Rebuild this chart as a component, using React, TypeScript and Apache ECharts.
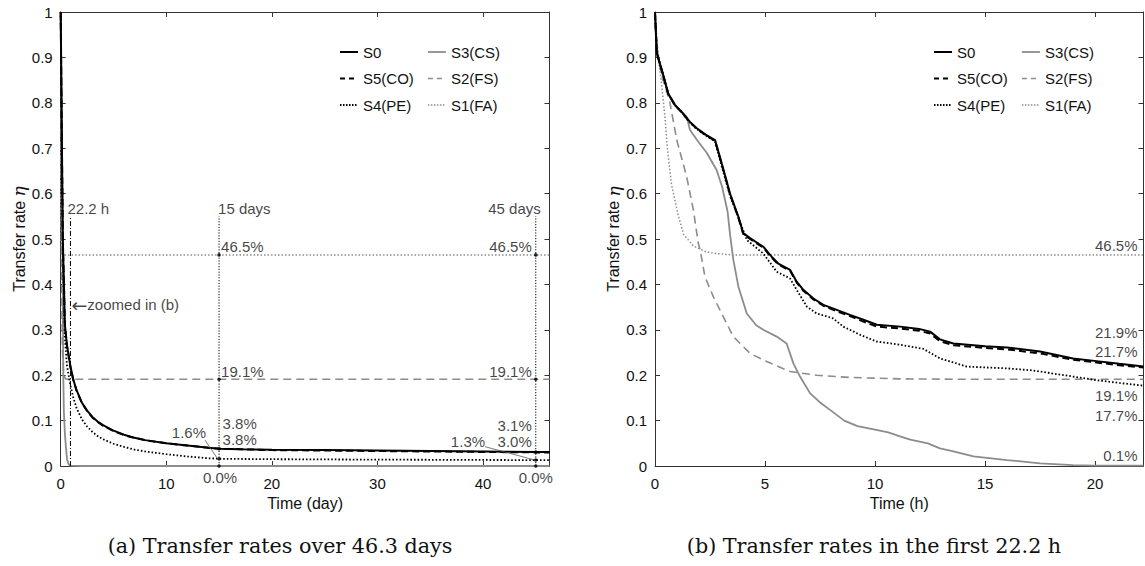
import React, { useEffect, useRef } from 'react';
import * as echarts from 'echarts';

// ---------- Data: panel (a), time in days ----------
const aS0 = [[0,1],[0.1,0.74],[0.2,0.5],[0.4,0.31],[0.6,0.265],[0.925,0.219],[1.2,0.19],[1.5,0.167],[2,0.14],[2.5,0.122],[3,0.108],[3.5,0.098],[4,0.09],[5,0.078],[6,0.069],[7,0.062],[8,0.057],[10,0.05],[12,0.045],[14,0.04],[15,0.038],[17,0.037],[20,0.036],[25,0.035],[30,0.034],[35,0.033],[40,0.032],[45,0.031],[46.3,0.031]];
const aS5 = [[0,1],[0.1,0.74],[0.2,0.5],[0.4,0.31],[0.6,0.264],[0.925,0.217],[1.2,0.189],[1.5,0.166],[2,0.139],[2.5,0.121],[3,0.107],[3.5,0.097],[4,0.089],[5,0.077],[6,0.068],[7,0.062],[8,0.057],[10,0.05],[12,0.045],[14,0.04],[15,0.038],[17,0.037],[20,0.035],[25,0.034],[30,0.033],[35,0.032],[40,0.031],[45,0.03],[46.3,0.03]];
const aS4 = [[0,1],[0.1,0.73],[0.2,0.47],[0.4,0.28],[0.6,0.22],[0.925,0.177],[1.2,0.15],[1.5,0.128],[2,0.103],[2.5,0.087],[3,0.075],[3.5,0.066],[4,0.059],[5,0.049],[6,0.042],[7,0.036],[8,0.032],[10,0.026],[12,0.021],[14,0.017],[15,0.016],[17,0.0155],[20,0.015],[25,0.0145],[30,0.014],[35,0.0137],[40,0.0133],[45,0.013],[46.3,0.013]];
const aS3 = [[0,1],[0.05,0.85],[0.1,0.72],[0.15,0.6],[0.2,0.35],[0.25,0.19],[0.3,0.12],[0.4,0.07],[0.5,0.04],[0.6,0.015],[0.75,0.004],[0.925,0.001],[2,0],[46.3,0]];
const aS2 = [[0,1],[0.04,0.71],[0.083,0.47],[0.125,0.33],[0.167,0.255],[0.21,0.23],[0.3,0.2],[0.46,0.192],[0.925,0.191],[46.3,0.191]];
const aS1 = [[0,1],[0.02,0.65],[0.04,0.53],[0.07,0.48],[0.12,0.467],[0.2,0.465],[46.3,0.465]];

// ---------- Data: panel (b), time in hours ----------
const bS0 = [[0,1],[0.08,0.91],[0.38,0.86],[0.6,0.82],[0.9,0.795],[1.21,0.78],[1.59,0.758],[1.9,0.744],[2.3,0.73],[2.73,0.718],[3.03,0.667],[3.41,0.6],[3.79,0.549],[4.01,0.513],[4.32,0.502],[4.92,0.483],[5.3,0.461],[5.6,0.446],[6.14,0.432],[6.44,0.406],[6.74,0.388],[7.2,0.369],[7.65,0.355],[8.26,0.344],[8.86,0.333],[9.47,0.322],[10.08,0.311],[11.14,0.307],[12.0,0.302],[12.5,0.296],[12.95,0.279],[13.56,0.27],[15,0.264],[16,0.261],[17.5,0.252],[19,0.237],[20.07,0.231],[21.1,0.225],[22.2,0.219]];
const bS5 = [[0,1],[0.08,0.91],[0.38,0.86],[0.6,0.82],[0.9,0.795],[1.21,0.779],[1.59,0.757],[1.9,0.743],[2.3,0.729],[2.73,0.716],[3.03,0.665],[3.41,0.598],[3.79,0.547],[4.01,0.511],[4.32,0.5],[4.92,0.481],[5.3,0.459],[5.6,0.444],[6.14,0.43],[6.44,0.404],[6.74,0.386],[7.2,0.367],[7.65,0.353],[8.26,0.341],[8.86,0.33],[9.47,0.318],[10.08,0.307],[11.14,0.303],[12.0,0.298],[12.5,0.292],[12.95,0.275],[13.56,0.266],[15,0.26],[16,0.257],[17.5,0.248],[19,0.234],[20.07,0.228],[21.1,0.222],[22.2,0.217]];
const bS4 = [[0,1],[0.08,0.91],[0.38,0.86],[0.6,0.82],[0.9,0.795],[1.21,0.78],[1.59,0.756],[1.9,0.742],[2.3,0.728],[2.73,0.715],[3.03,0.66],[3.41,0.595],[3.86,0.538],[4.17,0.498],[4.92,0.468],[5.53,0.428],[6.14,0.413],[6.44,0.388],[6.9,0.351],[7.35,0.336],[8.1,0.325],[8.56,0.307],[9.32,0.289],[10.08,0.274],[11.14,0.267],[12.2,0.258],[12.95,0.237],[14.17,0.219],[16,0.215],[17.05,0.211],[17.5,0.208],[19,0.197],[20.07,0.189],[21.1,0.183],[22.2,0.177]];
const bS3 = [[0,1],[0.08,0.909],[0.38,0.857],[0.6,0.821],[0.99,0.791],[1.44,0.769],[1.59,0.74],[2.0,0.712],[2.35,0.69],[2.8,0.652],[3.05,0.615],[3.3,0.56],[3.41,0.51],[3.56,0.454],[3.79,0.395],[4.17,0.336],[4.6,0.31],[4.92,0.3],[5.53,0.285],[5.98,0.27],[6.29,0.226],[6.59,0.197],[7.05,0.16],[7.5,0.14],[8,0.122],[8.6,0.1],[9.2,0.088],[10,0.08],[10.6,0.074],[11.1,0.066],[11.6,0.058],[12.4,0.05],[12.95,0.039],[13.56,0.032],[14.47,0.021],[16,0.013],[17.5,0.006],[19,0.002],[20,0.001],[22.2,0.001]];
const bS2 = [[0,1],[0.1,0.92],[0.3,0.86],[0.5,0.83],[0.68,0.8],[0.99,0.718],[1.44,0.637],[1.74,0.565],[1.97,0.49],[2.05,0.476],[2.27,0.417],[2.65,0.373],[3.1,0.329],[3.56,0.285],[4.32,0.248],[5.08,0.23],[6.14,0.208],[7.35,0.2],[8.86,0.195],[11.14,0.192],[14,0.191],[22.2,0.191]];
const bS1 = [[0,1],[0.15,0.9],[0.3,0.84],[0.45,0.77],[0.57,0.696],[0.75,0.62],[1.05,0.553],[1.3,0.51],[1.74,0.485],[2.3,0.472],[2.8,0.468],[3.5,0.465],[22.2,0.465]];

// ---------- Axes ----------
const X_MAX_A = 46.3;
const X_MAX_B = 22.2;
const X_TICKS_A = [0, 10, 20, 30, 40];
const X_TICKS_B = [0, 5, 10, 15, 20];

// ---------- Annotations (panel a) ----------
const REF_LINES_A = [0.925, 15, 45];
const REF_TOP = 0.55;
const MARKS_A = [[15,0.465],[15,0.191],[15,0.038],[15,0.016],[15,0],[45,0.465],[45,0.191],[45,0.031],[45,0.013],[45,0]];
const LEADERS_A = [[[13.67,0.057],[14.8,0.018]], [[40.2,0.0425],[44.9,0.0132]]];
const NOTES_A = [
  { text: '22.2 h', t: 0.925, v: 0.55 },
  { text: '15 days', t: 15, v: 0.55 },
  { text: '45 days', t: 45, v: 0.55 },
  { text: '{ar|\u2190}zoomed in (b)', t: 0.925, v: 0.355 },
  { text: '46.5%', t: 15, v: 0.465 },
  { text: '46.5%', t: 45, v: 0.465 },
  { text: '19.1%', t: 15, v: 0.191 },
  { text: '19.1%', t: 45, v: 0.191 },
  { text: '3.8%', t: 15, v: 0.038 },
  { text: '3.8%', t: 15, v: 0.038 },
  { text: '3.1%', t: 45, v: 0.031 },
  { text: '3.0%', t: 45, v: 0.03 },
  { text: '1.6%', t: 15, v: 0.016 },
  { text: '1.3%', t: 45, v: 0.013 },
  { text: '0.0%', t: 15, v: 0 },
  { text: '0.0%', t: 45, v: 0 },
];
// ---------- Annotations (panel b) ----------
const NOTES_B = [
  { text: '46.5%', t: 22.2, v: 0.465 },
  { text: '21.9%', t: 22.2, v: 0.219 },
  { text: '21.7%', t: 22.2, v: 0.217 },
  { text: '19.1%', t: 22.2, v: 0.191 },
  { text: '17.7%', t: 22.2, v: 0.177 },
  { text: '0.1%', t: 22.2, v: 0.001 },
];

// layout of annotation labels: [align, dx, dy]
const NOTE_LAYOUT_A: [string, number, number][] = [
  ['left', -3, -8], ['left', -1, -8], ['right', 5, -8], ['left', 1, 0],
  ['left', 2, -8], ['right', -4, -8], ['left', 2, -8], ['right', -4, -8],
  ['left', 3.5, -25], ['left', 3.5, -9.5], ['right', -4, -26], ['right', -4, -10.5],
  ['right', -13, -26], ['right', -50.7, -18.4], ['center', 1, 11], ['center', 0, 11],
];
const NOTE_LAYOUT_B: [string, number, number][] = [
  ['right', -6, -9], ['right', -6, -33.6], ['right', -6, -15.5],
  ['right', -6, 16.7], ['right', -6, 29.4], ['right', -6, -10.5],
];

const FONT = '"Liberation Sans", Arial, Helvetica, sans-serif';
const SERIF = '"DejaVu Serif", "Liberation Serif", serif';
const BLACK = '#000000';
const GRAY = '#8c8c8c';
const AXIS = '#333333';

const STYLE: Record<string, any> = {
  'S0': { color: BLACK, type: 'solid', width: 2 },
  'S5(CO)': { color: BLACK, type: [7, 4], width: 2 },
  'S4(PE)': { color: BLACK, type: [1.6, 2], width: 1.8 },
  'S3(CS)': { color: GRAY, type: 'solid', width: 1.8 },
  'S2(FS)': { color: GRAY, type: [8, 5], width: 1.6 },
  'S1(FA)': { color: GRAY, type: [1.5, 2], width: 1.5 },
};
const LEGEND_DASH: Record<string, any> = {
  'S0': 'solid', 'S5(CO)': [5, 4], 'S4(PE)': [1.5, 1.5],
  'S3(CS)': 'solid', 'S2(FS)': [5, 4], 'S1(FA)': [1.5, 1.5],
};

function lineSeries(name: string, data: number[][], gi: number, z: number) {
  const s = STYLE[name];
  return {
    type: 'line', name, data, xAxisIndex: gi, yAxisIndex: gi,
    symbol: 'none', showSymbol: false, silent: true, z,
    lineStyle: { color: s.color, type: s.type, width: s.width },
    itemStyle: { color: s.color },
  };
}

function noteSeries(notes: any[], layout: [string, number, number][], gi: number) {
  return {
    type: 'scatter', xAxisIndex: gi, yAxisIndex: gi, silent: true, clip: false, z: 20,
    symbolSize: 1, itemStyle: { color: 'rgba(0,0,0,0)' },
    data: notes.map((n, i) => ({
      name: n.text, value: [n.t, n.v],
      label: {
        show: true, position: 'inside', formatter: n.text,
        align: layout[i][0], verticalAlign: 'middle', offset: [layout[i][1], layout[i][2]],
        fontSize: 15, fontFamily: FONT, color: '#111',
        rich: { ar: { fontSize: 19, fontFamily: '"DejaVu Sans", sans-serif', color: '#111' } },
      },
    })),
  };
}

function xAxes(gi: number, max: number, ticks: number[], name: string) {
  const base = {
    type: 'value', gridIndex: gi, min: 0, max,
    axisLine: { show: true, onZero: false, lineStyle: { color: AXIS, width: 1 } },
    axisTick: { show: true, inside: true, length: 5, customValues: ticks, lineStyle: { color: AXIS } },
    splitLine: { show: false },
  };
  return [
    { ...base, position: 'bottom', name, nameLocation: 'middle', nameGap: 28,
      nameTextStyle: { fontSize: 16, fontFamily: FONT, color: '#111' },
      axisLabel: { show: true, customValues: ticks, margin: 10, fontSize: 15, fontFamily: FONT, color: '#111' } },
    { ...base, position: 'top', axisLabel: { show: false } },
  ];
}

function yAxes(gi: number) {
  const base = {
    type: 'value', gridIndex: gi, min: 0, max: 1, interval: 0.1,
    axisLine: { show: true, onZero: false, lineStyle: { color: AXIS, width: 1 } },
    axisTick: { show: true, inside: true, length: 5, lineStyle: { color: AXIS } },
    splitLine: { show: false },
  };
  return [
    { ...base, position: 'left', name: 'Transfer rate {e|\u03b7}', nameLocation: 'middle', nameGap: 32,
      nameTextStyle: { fontSize: 16, fontFamily: FONT, color: '#111',
        rich: { e: { fontSize: 17, fontFamily: SERIF, fontStyle: 'italic', color: '#111' } } },
      axisLabel: { show: true, margin: 8, fontSize: 15, fontFamily: FONT, color: '#111' } },
    { ...base, position: 'right', axisLabel: { show: false } },
  ];
}

function legend(left: number, names: string[]) {
  return {
    left, top: 44, orient: 'vertical', selectedMode: false,
    data: names.map((n) => ({
      name: n,
      itemStyle: { opacity: 0 },
      lineStyle: { color: STYLE[n].color, width: STYLE[n].width, type: LEGEND_DASH[n] },
    })),
    itemWidth: 18, itemHeight: 10, itemGap: 10.5, padding: 0,
    textStyle: { fontSize: 15, fontFamily: FONT, color: '#111', lineHeight: 16 },
  };
}

export default function App() {
  const ref = useRef<HTMLDivElement>(null);
  useEffect(() => {
    if (!ref.current) return;
    const chart = echarts.init(ref.current, null, { renderer: 'svg' });
    const [xa0, xa0top] = xAxes(0, X_MAX_A, X_TICKS_A, 'Time (day)');
    const [xb0, xb0top] = xAxes(1, X_MAX_B, X_TICKS_B, 'Time (h)');
    const [ya0, ya0r] = yAxes(0);
    const [yb0, yb0r] = yAxes(1);

    const series: any[] = [
      lineSeries('S1(FA)', aS1, 0, 2), lineSeries('S2(FS)', aS2, 0, 2), lineSeries('S3(CS)', aS3, 0, 2),
      lineSeries('S4(PE)', aS4, 0, 3), lineSeries('S5(CO)', aS5, 0, 3), lineSeries('S0', aS0, 0, 4),
      lineSeries('S1(FA)', bS1, 1, 2), lineSeries('S2(FS)', bS2, 1, 2), lineSeries('S3(CS)', bS3, 1, 2),
      lineSeries('S4(PE)', bS4, 1, 3), lineSeries('S5(CO)', bS5, 1, 3), lineSeries('S0', bS0, 1, 4),
    ];
    REF_LINES_A.forEach((t, i) => {
      series.push({
        type: 'line', xAxisIndex: 0, yAxisIndex: 0, symbol: 'none', silent: true, z: 5,
        data: [[t, 0], [t, REF_TOP]],
        lineStyle: { color: BLACK, width: 1, type: i === 0 ? [5, 2, 1, 2] : [1.2, 1.6] },
      });
    });
    LEADERS_A.forEach((seg) => {
      series.push({
        type: 'line', xAxisIndex: 0, yAxisIndex: 0, symbol: 'none', silent: true, z: 5,
        data: seg, lineStyle: { color: '#555', width: 0.8, type: 'solid' },
      });
    });
    series.push({
      type: 'scatter', xAxisIndex: 0, yAxisIndex: 0, silent: true, clip: false, z: 10,
      symbol: 'circle', symbolSize: 3.5, itemStyle: { color: BLACK }, data: MARKS_A,
    });
    series.push(noteSeries(NOTES_A, NOTE_LAYOUT_A, 0));
    series.push(noteSeries(NOTES_B, NOTE_LAYOUT_B, 1));

    const capStyle = { fontSize: 20.7, fontFamily: SERIF, fill: '#111', align: 'center', verticalAlign: 'middle', textAlign: 'center', textVerticalAlign: 'middle' };
    chart.setOption({
      animation: false,
      backgroundColor: '#ffffff',
      grid: [
        { left: 60.7, top: 12, width: 488.8, height: 454 },
        { left: 655, top: 12, width: 488.5, height: 454 },
      ],
      xAxis: [xa0, xb0, xa0top, xb0top],
      yAxis: [ya0, yb0, ya0r, yb0r],
      legend: [
        legend(339, ['S0', 'S5(CO)', 'S4(PE)']),
        legend(427, ['S3(CS)', 'S2(FS)', 'S1(FA)']),
        legend(933, ['S0', 'S5(CO)', 'S4(PE)']),
        legend(1021, ['S3(CS)', 'S2(FS)', 'S1(FA)']),
      ],
      graphic: [
        { type: 'text', x: 280, y: 546, style: { ...capStyle, text: '(a) Transfer rates over 46.3 days' } },
        { type: 'text', x: 874, y: 546, style: { ...capStyle, text: '(b) Transfer rates in the first 22.2 h' } },
      ],
      series,
    });
    return () => chart.dispose();
  }, []);
  return <div ref={ref} style={{ position: 'fixed', left: 0, top: 0, width: 1145, height: 566, background: '#fff' }} />;
}
